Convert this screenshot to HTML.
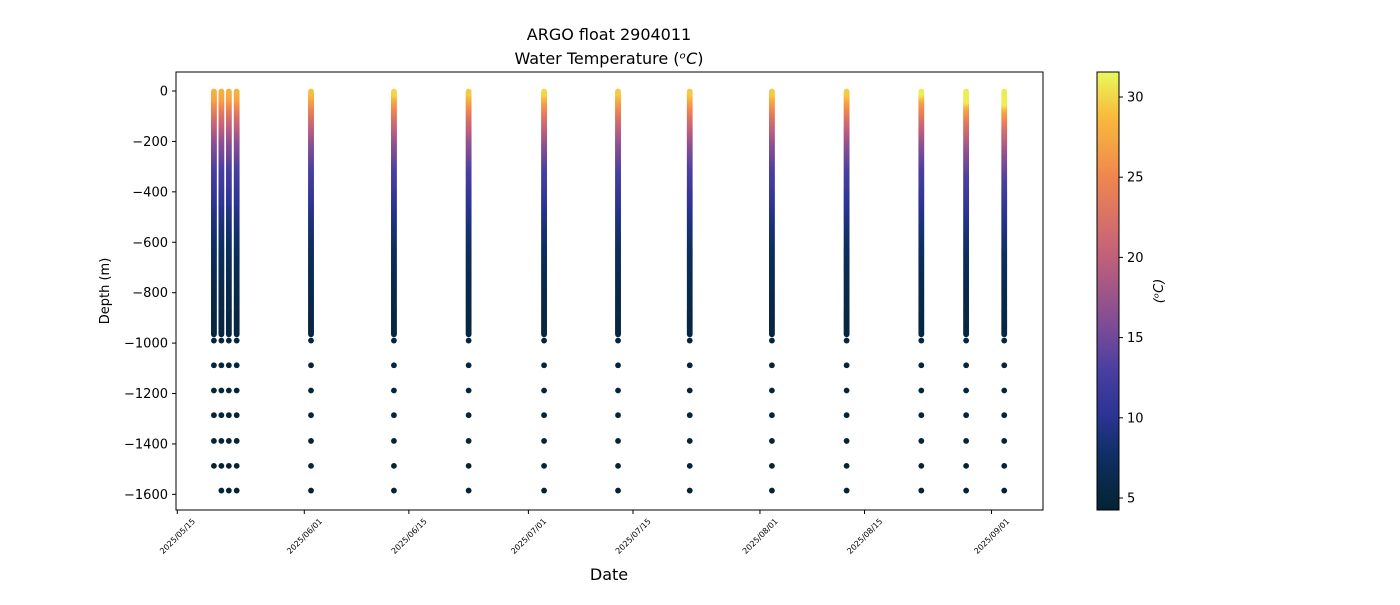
<!DOCTYPE html>
<html><head><meta charset="utf-8"><style>
body{margin:0;background:#fff;}
svg{font-family:"DejaVu Sans","Liberation Sans",sans-serif;}
</style></head><body>
<svg id="chart" width="1400" height="600" viewBox="0 0 1400 600">
<defs>
<linearGradient id="cbgrad" x1="0" y1="1" x2="0" y2="0">
<stop offset="0" stop-color="#042333"/><stop offset="0.12" stop-color="#0d2f62"/>
<stop offset="0.22" stop-color="#2c3494"/><stop offset="0.32" stop-color="#4a3fa0"/>
<stop offset="0.42" stop-color="#7d4c96"/><stop offset="0.58" stop-color="#c2607a"/>
<stop offset="0.76" stop-color="#f0864f"/><stop offset="0.9" stop-color="#f8bb3c"/>
<stop offset="1" stop-color="#e8fa5b"/>
</linearGradient>
<clipPath id="pc"><rect x="176" y="72" width="867" height="438"/></clipPath>
</defs>
<text x="609" y="40" text-anchor="middle" font-size="16">ARGO float 2904011</text>
<text x="609" y="64" text-anchor="middle" font-size="16">Water Temperature (<tspan font-style="italic">ᵒC</tspan>)</text>
<g id="marks" clip-path="url(#pc)"></g>
<rect x="176" y="72" width="867" height="438" fill="none" stroke="#000" stroke-width="1"/>
<g id="yaxis"></g>
<g id="xaxis"></g>
<text transform="translate(109,291) rotate(-90)" text-anchor="middle" font-size="13">Depth (m)</text>
<text x="609" y="580" text-anchor="middle" font-size="16">Date</text>
<rect x="1097" y="72" width="22" height="438" fill="url(#cbgrad)" stroke="#000" stroke-width="1"/>
<g id="cbaxis"></g>
<text transform="translate(1163,291) rotate(-90)" text-anchor="middle" font-size="13" font-style="italic">(ᵒC)</text>
</svg>
<script>
const profileDays = [4.9, 5.9, 6.9, 7.95, 17.9, 29, 39, 49.1, 59, 68.6, 79.6, 89.6, 99.6, 105.6, 110.7];
const surfaceTemps = [28, 28, 28, 28, 29, 30, 29.5, 30, 29.5, 29.5, 29.5, 29.5, 31, 31, 31];
const mixedDepths = [0, 0, 0, 0, 5, 10, 10, 10, 10, 10, 10, 10, 10, 40, 50];
const profileDepths = [0, -30, -100, -200, -300, -400, -500, -600, -700, -800, -1000, -1600];
const profileTemps = [28, 27, 22, 16.5, 13, 11, 9, 7.5, 6.5, 5.8, 5, 4.3];
const deepDepths = [-990, -1088, -1188, -1286, -1388, -1487, -1585];
const yTicks = [0, -200, -400, -600, -800, -1000, -1200, -1400, -1600];
const xTickLabels = ["2025/05/15", "2025/06/01", "2025/06/15", "2025/07/01", "2025/07/15", "2025/08/01", "2025/08/15", "2025/09/01"];
const xTickDays = [0, 17, 31, 47, 61, 78, 92, 109];
const cbTicks = [5, 10, 15, 20, 25, 30];

const NS = "http://www.w3.org/2000/svg";
const X = d => 177.3 + d * 7.47;
const Y = v => 91 + (-v) * 0.2521;
const CB = t => 498 - (t - 5) * 16.04;
const tmin = 4.25, tmax = 31.56;
const stops = [[0,[4,35,51]],[0.12,[13,47,98]],[0.22,[44,52,148]],[0.32,[74,63,160]],[0.42,[125,76,150]],[0.58,[194,96,122]],[0.76,[240,134,79]],[0.9,[248,187,60]],[1,[232,250,91]]];
function cmap(t){
  let f = Math.max(0, Math.min(1, (t - tmin) / (tmax - tmin)));
  for (let i = 1; i < stops.length; i++) {
    if (f <= stops[i][0]) {
      const a = stops[i-1], b = stops[i], u = (f - a[0]) / (b[0] - a[0]);
      return `rgb(${a[1].map((c,k)=>Math.round(c + (b[1][k]-c)*u)).join(',')})`;
    }
  }
  return "rgb(232,250,91)";
}
function tempAt(z, surf, mld){
  if (z > -mld) return surf;
  const zz = Math.min(0, z + mld);
  for (let i = 1; i < profileDepths.length; i++) {
    if (zz >= profileDepths[i]) {
      const u = (zz - profileDepths[i-1]) / (profileDepths[i] - profileDepths[i-1]);
      const a = i === 1 ? surf : profileTemps[i-1];
      const b = profileTemps[i];
      return a + (b - a) * u;
    }
  }
  return profileTemps[profileTemps.length-1];
}
const marks = document.getElementById('marks');
function dot(cx, cy, col){
  const c = document.createElementNS(NS, 'circle');
  c.setAttribute('cx', cx); c.setAttribute('cy', cy); c.setAttribute('r', 2.9); c.setAttribute('fill', col);
  
  
  marks.appendChild(c);
}
profileDays.forEach((d, p) => {
  const x = X(d);
  for (let z = -965; z <= -3; z += 4) dot(x, Y(z), cmap(tempAt(z, surfaceTemps[p], mixedDepths[p])));
  dot(x, Y(-2), cmap(surfaceTemps[p]));
  deepDepths.forEach(z => { if (!(p === 0 && z === -1585)) dot(x, Y(z), cmap(tempAt(z, surfaceTemps[p], mixedDepths[p]))); });
});
function line(g, x1, y1, x2, y2, name){
  const l = document.createElementNS(NS, 'line');
  l.setAttribute('x1', x1); l.setAttribute('y1', y1); l.setAttribute('x2', x2); l.setAttribute('y2', y2);
  l.setAttribute('stroke', '#000');
  
  
  g.appendChild(l);
}
function text(g, x, y, s, size, anchor, name, tr){
  const t = document.createElementNS(NS, 'text');
  t.setAttribute('x', x); t.setAttribute('y', y); t.setAttribute('font-size', size);
  t.setAttribute('text-anchor', anchor);
  if (tr) t.setAttribute('transform', tr);
  t.textContent = s;
  
  
  g.appendChild(t);
}
const ya = document.getElementById('yaxis');
yTicks.forEach(v => {
  const y = Y(v);
  line(ya, 172, y, 176, y, 'y-tick');
  text(ya, 168, y + 4.5, v === 0 ? "0" : "\u2212" + Math.abs(v), 13, 'end', 'y-tick-label');
});
const xa = document.getElementById('xaxis');
xTickDays.forEach((d, i) => {
  const x = X(d);
  line(xa, x, 510, x, 514, 'x-tick');
  text(xa, x, 539, xTickLabels[i], 8, 'middle', 'x-tick-label', `rotate(-45 ${x} 536)`);
});
const cb = document.getElementById('cbaxis');
cbTicks.forEach(v => {
  const y = CB(v);
  line(cb, 1119, y, 1123, y, 'colorbar-tick');
  text(cb, 1127, y + 4.5, String(v), 13, 'start', 'colorbar-tick-label');
});
</script>
</body></html>
